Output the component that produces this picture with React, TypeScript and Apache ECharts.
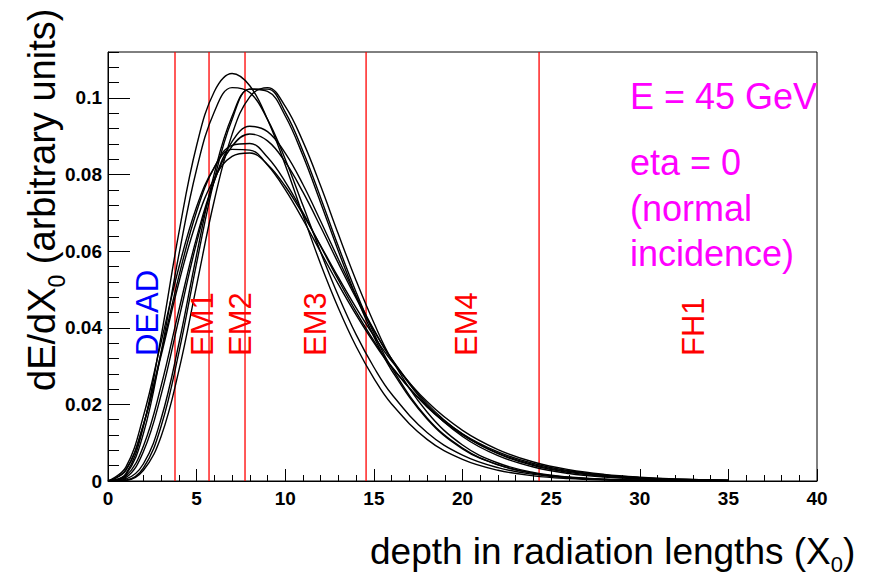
import React, { useEffect, useRef } from "react";
import * as echarts from "echarts";

// depth in radiation lengths (X0)
const depth = [0, 1, 2, 3, 4, 5, 6, 7, 8, 9, 10, 11, 12, 13, 14, 15, 16, 18, 20, 22, 24, 26, 28, 30, 32, 35];

// dE/dX0 profiles (arbitrary units)
const curveA = [0, 0.00186, 0.01426, 0.03781, 0.06485, 0.08759, 0.1017, 0.1064, 0.1032, 0.0944, 0.0825, 0.0694, 0.0566, 0.0451, 0.0351, 0.0268, 0.0201, 0.01088, 0.00563, 0.0028, 0.00135, 0.00064, 0.00029, 0.00013, 0.00006, 0.00002];
const curveB = [0, 0.00157, 0.01243, 0.03374, 0.0591, 0.0814, 0.0964, 0.1027, 0.1014, 0.0944, 0.084, 0.0719, 0.0597, 0.0483, 0.0382, 0.0297, 0.0227, 0.01268, 0.00677, 0.00348, 0.00174, 0.00085, 0.0004, 0.00019, 0.00009, 0.00003];
const curveC = [0, 0.00019, 0.0034, 0.01435, 0.0336, 0.0569, 0.0787, 0.0944, 0.1023, 0.1023, 0.0963, 0.0861, 0.0739, 0.0612, 0.0493, 0.0386, 0.0296, 0.01648, 0.00861, 0.00428, 0.00204, 0.00094, 0.00042, 0.00018, 0.00008, 0.00002];
const curveD = [0, 0.00014, 0.0028, 0.0117, 0.0289, 0.0511, 0.0733, 0.0905, 0.1003, 0.1027, 0.0978, 0.0886, 0.077, 0.0644, 0.0523, 0.0413, 0.0318, 0.018, 0.0094, 0.0047, 0.00225, 0.00104, 0.00047, 0.0002, 0.00009, 0.00003];
const curveE = [0, 0.00051, 0.0045, 0.0163, 0.0359, 0.0591, 0.0803, 0.0952, 0.1023, 0.1017, 0.0953, 0.0849, 0.0726, 0.06, 0.0482, 0.0377, 0.0289, 0.0162, 0.0084, 0.0042, 0.002, 0.00092, 0.00041, 0.00018, 0.00008, 0.00002];
const curveF = [0, 0.000876, 0.00768, 0.02256, 0.04236, 0.06225, 0.07835, 0.0886, 0.0926, 0.0912, 0.0856, 0.0774, 0.0678, 0.0579, 0.0483, 0.0395, 0.0318, 0.0197, 0.01163, 0.00662, 0.00365, 0.00196, 0.00103, 0.00053, 0.00027, 0.00009];
const curveG = [0, 0.00121, 0.00914, 0.02489, 0.0446, 0.06354, 0.07838, 0.0874, 0.0906, 0.0888, 0.0833, 0.0754, 0.0663, 0.0568, 0.0477, 0.0393, 0.0319, 0.0202, 0.01222, 0.00714, 0.00405, 0.00224, 0.00121, 0.00065, 0.00034, 0.00013];
const curveH = [0, 0.00273, 0.01473, 0.03349, 0.05347, 0.07034, 0.08191, 0.08762, 0.08811, 0.08452, 0.07812, 0.07005, 0.06126, 0.05249, 0.04416, 0.0366, 0.02991, 0.01933, 0.01203, 0.00727, 0.00428, 0.00247, 0.0014, 0.00078, 0.00043, 0.00017];
const curveI = [0, 0.00356, 0.017, 0.03633, 0.05581, 0.07159, 0.08189, 0.08658, 0.08639, 0.08249, 0.07607, 0.06821, 0.05975, 0.05133, 0.04338, 0.03613, 0.02972, 0.01948, 0.01234, 0.0076, 0.00457, 0.00269, 0.00156, 0.00089, 0.0005, 0.00021];
const curveJ = [0, 0.00288, 0.01476, 0.03281, 0.05183, 0.0679, 0.07903, 0.08476, 0.08563, 0.08265, 0.07695, 0.06958, 0.06142, 0.05314, 0.04521, 0.03787, 0.03132, 0.02073, 0.01323, 0.00822, 0.00497, 0.00295, 0.00172, 0.00099, 0.00056, 0.00023];

const curves = [curveA, curveB, curveC, curveD, curveE, curveF, curveG, curveH, curveI, curveJ];

// layer boundaries (X0)
const layerBoundaries = [3.78, 5.7, 7.73, 14.56, 24.32];
const layerNames = ["DEAD", "EM1", "EM2", "EM3", "EM4", "FH1"];
const layerColors = ["#0000ff", "#ff0000", "#ff0000", "#ff0000", "#ff0000", "#ff0000"];

const infoLines = ["E = 45 GeV", "eta = 0", "(normal", "incidence)"];

const Y_MAX = 0.112;

// layout (pixels)
const layerLabelX = [147, 202, 240, 315, 466, 693];
const layerLabelBottom = 356;
const infoY = [96, 162, 208, 253];

const FONT = "'Liberation Sans', Arial, Helvetica, sans-serif";

export default function App() {
  const ref = useRef<HTMLDivElement>(null);
  useEffect(() => {
    document.body.style.margin = "0";
    const chart = echarts.init(ref.current!, null, { renderer: "svg" });

    const series: any[] = [];
    layerBoundaries.forEach((v) => {
      series.push({
        type: "line",
        data: [
          [v, 0],
          [v, Y_MAX],
        ],
        showSymbol: false,
        silent: true,
        lineStyle: { color: "#ff0000", width: 1.3 },
        itemStyle: { color: "#ff0000" },
        z: 2,
      });
    });
    curves.forEach((c) => {
      series.push({
        type: "line",
        data: depth.map((x, j) => [x, c[j]]),
        showSymbol: false,
        smooth: 0.4,
        lineStyle: { color: "#000", width: 1.4 },
        itemStyle: { color: "#000" },
        silent: true,
        z: 3,
      });
    });

    const graphics: any[] = [];
    layerNames.forEach((n, i) => {
      graphics.push({
        type: "text",
        x: layerLabelX[i],
        y: layerLabelBottom,
        rotation: Math.PI / 2,
        style: {
          text: n,
          fill: layerColors[i],
          font: `31px ${FONT}`,
          align: "left",
          verticalAlign: "middle",
        },
        z: 10,
      });
    });
    infoLines.forEach((t, i) => {
      graphics.push({
        type: "text",
        x: 630,
        y: infoY[i],
        style: {
          text: t,
          fill: "#ff00ff",
          font: `36px ${FONT}`,
          align: "left",
          verticalAlign: "middle",
        },
        z: 10,
      });
    });
    // y axis title
    graphics.push({
      type: "text",
      x: 42,
      y: 391,
      rotation: Math.PI / 2,
      style: {
        text: "{a|dE/dX}{s|0}{a| (arbitrary units)}",
        align: "left",
        verticalAlign: "middle",
        rich: {
          a: { fontSize: 38, fontFamily: FONT, fill: "#000", lineHeight: 80 },
          s: { fontSize: 23, fontFamily: FONT, fill: "#000", padding: [30, 0, 0, 0] },
        },
      },
      z: 10,
    });
    // x axis title
    graphics.push({
      type: "text",
      x: 370,
      y: 551,
      style: {
        text: "{a|depth in radiation lengths (X}{s|0}{a|)}",
        align: "left",
        verticalAlign: "middle",
        rich: {
          a: { fontSize: 37, fontFamily: FONT, fill: "#000", lineHeight: 80 },
          s: { fontSize: 22, fontFamily: FONT, fill: "#000", padding: [26, 0, 0, 0] },
        },
      },
      z: 10,
    });

    const labelStyle = {
      color: "#000",
      fontSize: 19,
      fontWeight: "bold" as const,
      fontFamily: FONT,
    };

    chart.setOption({
      animation: false,
      backgroundColor: "#fff",
      grid: {
        left: 108,
        right: 57,
        top: 52,
        bottom: 95,
        show: true,
        borderColor: "#000",
        borderWidth: 1,
        backgroundColor: "transparent",
      },
      xAxis: {
        type: "value",
        min: 0,
        max: 40,
        interval: 5,
        axisLine: { show: true, lineStyle: { color: "#000", width: 1 } },
        axisTick: { show: true, inside: true, length: 12, lineStyle: { color: "#000" } },
        minorTick: { show: true, splitNumber: 5, length: 6, lineStyle: { color: "#000" } },
        axisLabel: { ...labelStyle, margin: 8 },
        splitLine: { show: false },
        minorSplitLine: { show: false },
      },
      yAxis: [
        {
          type: "value",
          min: 0,
          max: Y_MAX,
          interval: 0.02,
          axisLine: { show: true, lineStyle: { color: "#000", width: 1 } },
          axisTick: { show: true, inside: true, length: 22, lineStyle: { color: "#000" } },
          axisLabel: {
            ...labelStyle,
            margin: 6,
            showMaxLabel: false,
            formatter: (v: number) => (v === 0 ? "0" : String(parseFloat(v.toFixed(3)))),
          },
          splitLine: { show: false },
        },
        {
          type: "value",
          position: "left",
          min: 0,
          max: Y_MAX,
          interval: 0.004,
          axisLine: { show: false },
          axisTick: { show: true, inside: true, length: 11, lineStyle: { color: "#000" } },
          axisLabel: { show: false },
          splitLine: { show: false },
        },
      ],
      series,
      graphic: graphics,
    });
    return () => chart.dispose();
  }, []);
  return <div ref={ref} style={{ width: 874, height: 576 }} />;
}
